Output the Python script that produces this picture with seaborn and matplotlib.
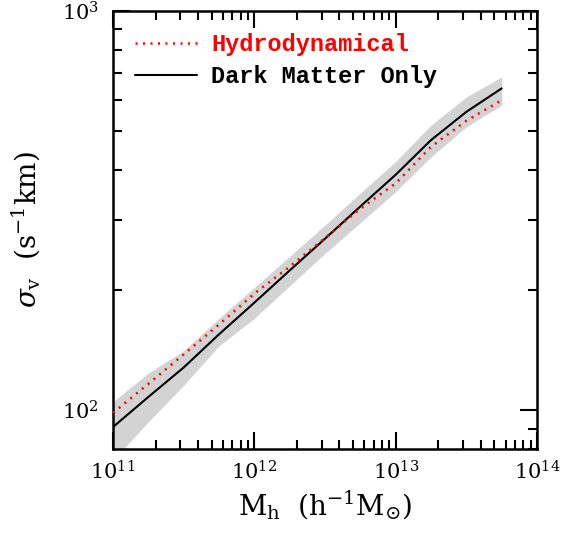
import numpy as np
import pandas as pd
import matplotlib
matplotlib.use("Agg")
import matplotlib.pyplot as plt
import seaborn as sns
from matplotlib.ticker import NullFormatter, LogLocator

# Dados (log10 da massa do halo)
log_mh = [11.0, 11.25, 11.5, 11.75, 12.0, 12.25, 12.5, 12.75, 13.0, 13.25, 13.5, 13.75]

# Sigma_v - simulacao so com materia escura
sigma_dmo = [90.8, 108, 128, 155, 186, 224, 269, 324, 389, 475, 559, 640]

# Sigma_v - simulacao hidrodinamica
sigma_hydro = [98.5, 116.5, 138, 164, 196, 229, 270, 320, 370, 457, 531, 598]

# Faixa de dispersao (cinza)
band_low = [75, 93.5, 115.5, 145, 170, 205, 247, 295, 353, 431, 513, 581]
band_high = [105, 124, 141, 170, 203, 243, 291, 350, 420, 518, 609, 684]

df = pd.DataFrame({
    "Mh": 10 ** np.array(log_mh),
    "dmo": sigma_dmo,
    "hydro": sigma_hydro,
    "lo": band_low,
    "hi": band_high,
})

sns.set_style("ticks")
plt.rcParams["mathtext.fontset"] = "dejavuserif"
plt.rcParams["font.family"] = ["DejaVu Serif"]

fig = plt.figure(figsize=(5.63, 5.40), dpi=100)
ax = fig.add_axes([113 / 563, 91 / 540, 424 / 563, 438 / 540])

ax.fill_between(df["Mh"], df["lo"], df["hi"], color="#d3d3d3", lw=0, zorder=1)
sns.lineplot(data=df, x="Mh", y="hydro", ax=ax, color="red", lw=1.8,
             linestyle=(0, (0.8, 2.2)), label="Hydrodynamical", zorder=3)
sns.lineplot(data=df, x="Mh", y="dmo", ax=ax, color="black", lw=1.5,
             label="Dark Matter Only", zorder=2)

ax.set_xscale("log")
ax.set_yscale("log")
ax.set_xlim(1e11, 1e14)
ax.set_ylim(80, 1000)

ax.yaxis.set_minor_locator(LogLocator(base=10, subs=np.arange(2, 10)))
ax.yaxis.set_minor_formatter(NullFormatter())
ax.xaxis.set_minor_formatter(NullFormatter())

ax.tick_params(which="both", direction="in", top=True, right=True, width=1.5,
               color="black", labelcolor="black")
ax.tick_params(which="major", length=12, labelsize=15)
ax.tick_params(which="minor", length=6.5)
ax.tick_params(axis="x", pad=8)
ax.tick_params(axis="y", pad=10)
for s in ax.spines.values():
    s.set_linewidth(1.8)
    s.set_color("black")

ax.set_xlabel(r"M$_{\rm h}$  (h$^{-1}$M$_{\odot}$)", fontsize=20, labelpad=4, color="black")
ax.set_ylabel(r"$\sigma_{\rm v}$  (s$^{-1}$km)", fontsize=20, labelpad=14, color="black")

leg = ax.legend(loc="upper left", frameon=False, handlelength=2.6, handletextpad=0.6,
                labelspacing=0.38, borderaxespad=0.55,
                prop={"family": "Liberation Mono", "weight": "bold", "size": 17})
for txt, line in zip(leg.get_texts(), leg.get_lines()):
    txt.set_color(line.get_color())

fig.savefig("out.png", dpi=100)
